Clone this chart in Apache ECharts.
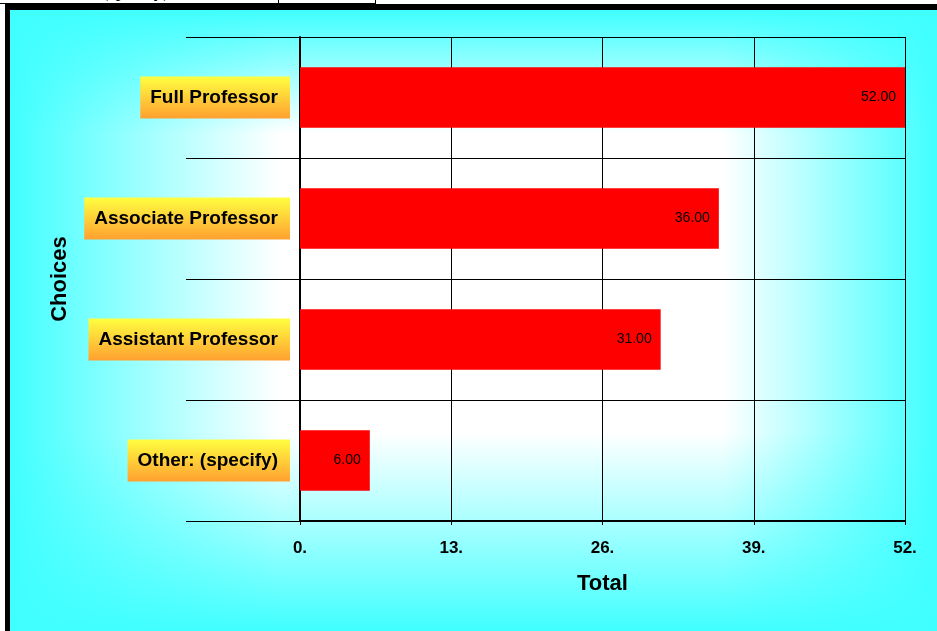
<!DOCTYPE html>
<html>
<head>
<meta charset="utf-8">
<script src="https://cdn.jsdelivr.net/npm/echarts@6/dist/echarts.min.js"></script>
<style>
  html, body { margin: 0; padding: 0; background: #ffffff; }
  #bg {
    position: absolute; left: 10px; top: 10px; width: 927px; height: 621px;
    background:
      linear-gradient(to bottom, rgba(64,255,255,1) 0%, rgba(64,255,255,0) 20%, rgba(64,255,255,0) 68%, rgba(64,255,255,1) 100%),
      linear-gradient(to right, #40FFFF 0%, #FFFFFF 29%, #FFFFFF 77%, #40FFFF 100%);
  }
  #frameLeft { position: absolute; left: 5px; top: 5px; width: 5px; height: 626px; background: #000; }
  #frameTop { position: absolute; left: 5px; top: 4px; width: 932px; height: 6px; background: #000; }
  #chart { position: absolute; left: 0; top: 0; width: 937px; height: 631px; }
</style>
</head>
<body>
<div id="bg"></div>
<div id="frameLeft"></div>
<div id="frameTop"></div>
<div id="chart"></div>
<script>
const categories = ['Full Professor', 'Associate Professor', 'Assistant Professor', 'Other: (specify)'];
const totals = [52, 36, 31, 6];
const xTicks = [0, 13, 26, 39, 52];
const headerText = '(specify),';

const FONT = 'Arial, "Liberation Sans", sans-serif';
const chart = echarts.init(document.getElementById('chart'), null, { renderer: 'canvas' });

const labelGrad = new echarts.graphic.LinearGradient(0, 0, 0, 1, [
  { offset: 0, color: '#FFFF40' },
  { offset: 1, color: '#FFA030' }
]);

chart.setOption({
  backgroundColor: 'transparent',
  animation: false,
  graphic: [
    { type: 'line', shape: { x1: 0, y1: 3.5, x2: 376, y2: 3.5 }, style: { stroke: '#000', lineWidth: 1 } },
    { type: 'line', shape: { x1: 278.5, y1: 0, x2: 278.5, y2: 4 }, style: { stroke: '#000', lineWidth: 1 } },
    { type: 'line', shape: { x1: 375.5, y1: 0, x2: 375.5, y2: 4 }, style: { stroke: '#000', lineWidth: 1 } },
    { type: 'text', left: 102, top: -17, style: { text: headerText, font: '19px "Liberation Serif", "DejaVu Serif", serif', fill: '#000' } }
  ],
  grid: { left: 300, right: 32, top: 37, bottom: 110, containLabel: false },
  xAxis: {
    type: 'value',
    min: xTicks[0],
    max: xTicks[xTicks.length - 1],
    interval: xTicks[1] - xTicks[0],
    name: 'Total',
    nameLocation: 'middle',
    nameGap: 52,
    nameTextStyle: { fontFamily: FONT, fontWeight: 'bold', fontSize: 22, color: '#000' },
    axisLine: { show: true, lineStyle: { color: '#000', width: 2 } },
    axisTick: { show: true, length: 4, lineStyle: { color: '#000', width: 1 } },
    splitLine: { show: true, lineStyle: { color: '#000', width: 1 } },
    axisLabel: {
      margin: 19,
      fontFamily: FONT, fontWeight: 'bold', fontSize: 17, color: '#000',
      formatter: v => v + '.'
    }
  },
  yAxis: {
    type: 'category',
    data: categories,
    inverse: true,
    name: 'Choices',
    nameLocation: 'middle',
    nameGap: 229,
    nameRotate: 90,
    nameTextStyle: { fontFamily: FONT, fontWeight: 'bold', fontSize: 22, color: '#000' },
    axisLine: { show: true, lineStyle: { color: '#000', width: 2 } },
    axisTick: { show: true, length: 114, alignWithLabel: false, lineStyle: { color: '#000', width: 1 } },
    splitLine: { show: true, lineStyle: { color: '#000', width: 1 } },
    axisLabel: {
      margin: 10,
      fontFamily: FONT, fontWeight: 'bold', fontSize: 19, color: '#000',
      lineHeight: 21,
      padding: [11, 12, 10, 10],
      backgroundColor: labelGrad
    }
  },
  series: [{
    type: 'bar',
    data: totals,
    barWidth: '50%',
    itemStyle: { color: '#FF0000' },
    label: {
      show: true,
      position: 'insideRight',
      distance: 9,
      fontFamily: FONT, fontSize: 14, color: '#000',
      formatter: p => p.value.toFixed(2)
    }
  }]
});
</script>
</body>
</html>
